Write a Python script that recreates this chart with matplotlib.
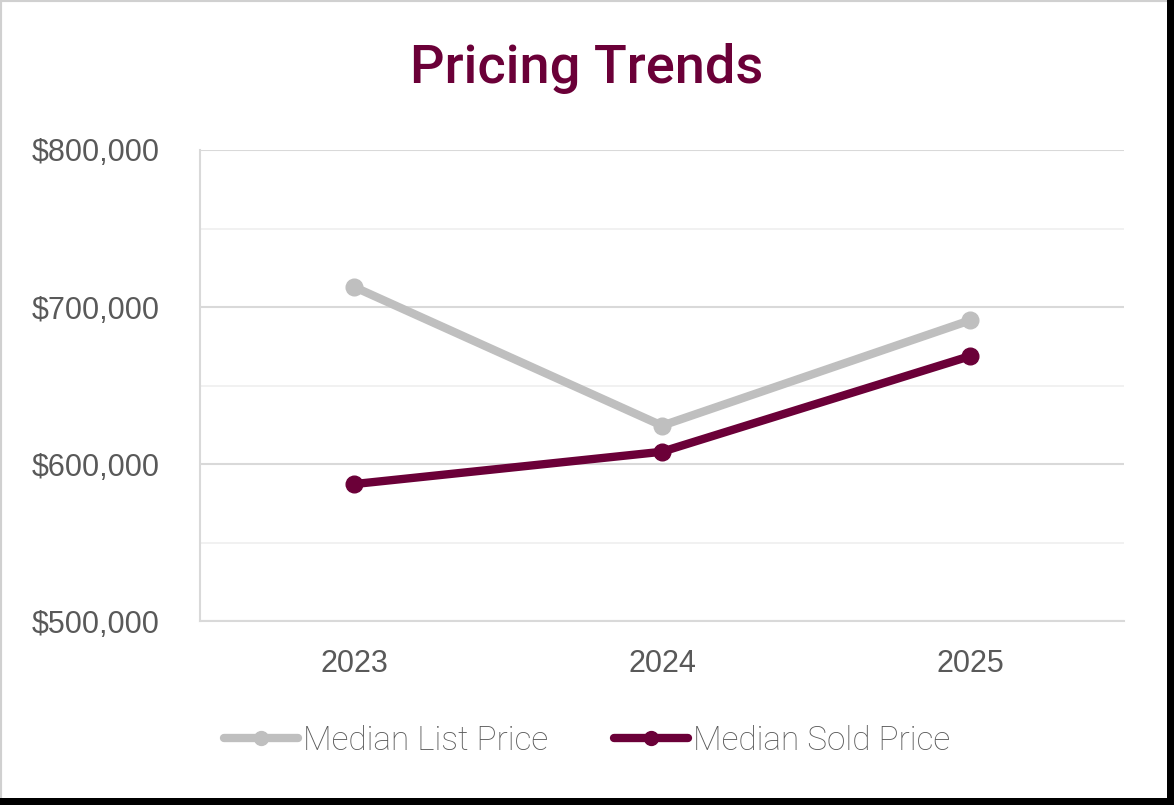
import matplotlib
matplotlib.use("Agg")
import matplotlib.pyplot as plt
from matplotlib.patches import Rectangle
from matplotlib.ticker import FuncFormatter, MultipleLocator

years = ["2023", "2024", "2025"]
median_list = [712800, 624400, 691500]
median_sold = [587200, 607800, 668700]

maroon = "#6B0038"
grey = "#BFBFBF"
text_grey = "#595959"

fig = plt.figure(figsize=(11.74, 8.05), dpi=100)
fig.patch.set_facecolor("white")

# frame
fig.patches.append(Rectangle((0, 0), 1, 1, transform=fig.transFigure, facecolor="none",
                             edgecolor="#d0d0d0", linewidth=3, zorder=0))
fig.patches.append(Rectangle((1167/1174, 0), 7/1174, 1, transform=fig.transFigure,
                             facecolor="black", edgecolor="none", zorder=1))
fig.patches.append(Rectangle((0, 0), 1, 7/805, transform=fig.transFigure,
                             facecolor="black", edgecolor="none", zorder=1))

ax = fig.add_axes([200/1174, 1 - 621/805, (1124-200)/1174, (621-150)/805])
x = range(len(years))
ax.plot(x, median_list, color=grey, lw=6, marker="o", ms=12, solid_capstyle="round",
        label="Median List Price", zorder=3)
ax.plot(x, median_sold, color=maroon, lw=6, marker="o", ms=12, solid_capstyle="round",
        label="Median Sold Price", zorder=4)

ax.set_xlim(-0.5, 2.5)
ax.set_ylim(500000, 800000)
ax.set_xticks(list(x))
ax.set_xticklabels(years)
ax.yaxis.set_major_locator(MultipleLocator(100000))
ax.yaxis.set_minor_locator(MultipleLocator(50000))
ax.yaxis.set_major_formatter(FuncFormatter(lambda v, p: f"${v:,.0f}"))
ax.grid(axis="y", which="major", color="#d9d9d9", lw=1.5)
ax.grid(axis="y", which="minor", color="#efefef", lw=1.2)
ax.set_axisbelow(True)
for s in ["top", "right"]:
    ax.spines[s].set_visible(False)
ax.spines["left"].set_color("#d9d9d9")
ax.spines["left"].set_linewidth(1.5)
ax.spines["bottom"].set_color("#d9d9d9")
ax.spines["bottom"].set_linewidth(1.5)
ax.tick_params(axis="both", which="both", length=0, colors=text_grey)
ax.tick_params(axis="y", labelsize=22, pad=29)
ax.tick_params(axis="x", labelsize=22, pad=20)
for lab in ax.get_yticklabels() + ax.get_xticklabels():
    lab.set_fontfamily("Liberation Sans")

fig.text(0.5, 1 - 68/805, "Pricing Trends", ha="center", va="center", fontsize=39,
         color=maroon, fontfamily="Roboto", fontweight="medium")

leg = fig.legend(loc="center", bbox_to_anchor=(0.5, 1 - 741/805), ncol=2, frameon=False,
                 handlelength=2.2, handletextpad=0.15, columnspacing=2.0,
                 prop={"family": "Roboto", "size": 24, "weight": "light"})
for t in leg.get_texts():
    t.set_color(text_grey)
for h in leg.legend_handles:
    h.set_markersize(10)

fig.savefig("out.png", dpi=100, facecolor="white")
